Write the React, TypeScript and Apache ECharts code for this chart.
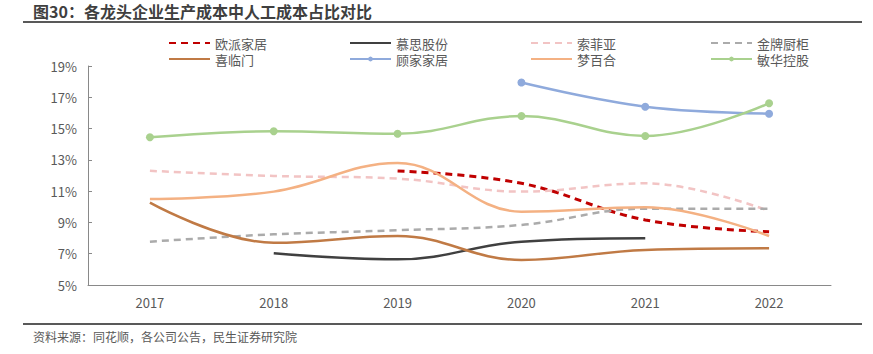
import React, { useEffect, useRef } from "react";
import * as echarts from "echarts";

const years = ["2017", "2018", "2019", "2020", "2021", "2022"];
const oupai = [null, null, 12.29, 11.5, 9.16, 8.41];
const musi = [null, 7.03, 6.64, 7.77, 7.99, null];
const sofia = [12.3, 11.97, 11.8, 10.97, 11.5, 9.73];
const goldenHome = [7.77, 8.24, 8.5, 8.84, 9.88, 9.88];
const xilinmen = [10.26, 7.7, 8.13, 6.6, 7.24, 7.35];
const kuka = [null, null, null, 17.94, 16.4, 15.95];
const mlily = [10.5, 10.97, 12.8, 9.69, 9.97, 8.13];
const manwah = [14.44, 14.83, 14.67, 15.8, 14.53, 16.62];

const FONT = "'Noto Sans CJK SC', 'Noto Sans', sans-serif";

type S = {
  name: string;
  data: (number | null)[];
  color: string;
  dashed?: boolean;
  marker?: boolean;
  width?: number;
};

const seriesDefs: S[] = [
  { name: "欧派家居", data: oupai, color: "#C00000", dashed: true, width: 3 },
  { name: "慕思股份", data: musi, color: "#404040" },
  { name: "索菲亚", data: sofia, color: "#F2C4C4", dashed: true },
  { name: "金牌厨柜", data: goldenHome, color: "#ABABAB", dashed: true },
  { name: "喜临门", data: xilinmen, color: "#C07A45" },
  { name: "顾家家居", data: kuka, color: "#8FAADC", marker: true },
  { name: "梦百合", data: mlily, color: "#F4B183" },
  { name: "敏华控股", data: manwah, color: "#A9D18E", marker: true },
];

const colLeft = [168, 349, 530, 710];
const rowTop = [36, 52];

export default function App() {
  const ref = useRef<HTMLDivElement>(null);
  useEffect(() => {
    document.body.style.margin = "0";
    if (!ref.current) return;
    const chart = echarts.init(ref.current, undefined, { renderer: "svg" });
    const legends = seriesDefs.map((s, i) => ({
      data: [s.marker ? { name: s.name } : { name: s.name, itemStyle: { opacity: 0 } }],
      left: colLeft[i % 4],
      top: rowTop[Math.floor(i / 4)],
      itemWidth: 41,
      itemHeight: 6,
      padding: 0,
      textStyle: { color: "#595959", fontSize: 13, fontFamily: FONT, lineHeight: 14 },
    }));
    chart.setOption({
      animation: false,
      textStyle: { fontFamily: FONT },
      title: {
        text: "图30：各龙头企业生产成本中人工成本占比对比",
        left: 33,
        top: 2,
        padding: 0,
        textStyle: { fontSize: 16, fontWeight: "bold", color: "#3F3F3F", fontFamily: FONT, lineHeight: 17 },
      },
      graphic: [
        { type: "line", shape: { x1: 23, y1: 22, x2: 862, y2: 22 }, style: { stroke: "#595959", lineWidth: 2 } },
        { type: "line", shape: { x1: 23, y1: 324, x2: 862, y2: 324 }, style: { stroke: "#595959", lineWidth: 2 } },
        {
          type: "text",
          left: 33,
          top: 330,
          style: { text: "资料来源：同花顺，各公司公告，民生证券研究院", fontSize: 12, fill: "#595959", fontFamily: FONT },
        },
      ],
      legend: legends,
      grid: { left: 88, right: 42, top: 66, bottom: 69, containLabel: false },
      xAxis: {
        type: "category",
        data: years,
        boundaryGap: true,
        axisLine: { lineStyle: { color: "#898989", width: 1 } },
        axisTick: { inside: true, length: 4, lineStyle: { color: "#898989" } },
        axisLabel: { color: "#595959", fontSize: 13, margin: 11, fontFamily: FONT },
      },
      yAxis: {
        type: "value",
        min: 5,
        max: 19,
        interval: 2,
        splitLine: { show: false },
        axisLine: { show: true, lineStyle: { color: "#898989", width: 1 } },
        axisTick: { show: true, inside: true, length: 4, lineStyle: { color: "#898989" } },
        axisLabel: { color: "#595959", fontSize: 13, margin: 11, formatter: "{value}%", fontFamily: FONT },
      },
      series: seriesDefs.map((s) => ({
        name: s.name,
        type: "line",
        data: s.data,
        smooth: 0.4,
        connectNulls: false,
        symbol: s.marker ? "circle" : "none",
        symbolSize: 8,
        showSymbol: !!s.marker,
        color: s.color,
        itemStyle: { color: s.color },
        lineStyle: {
          color: s.color,
          width: s.width ?? 2.5,
          type: s.dashed ? [7, 5] : "solid",
        },
      })),
    });
    return () => chart.dispose();
  }, []);
  return <div ref={ref} style={{ width: 873, height: 354 }} />;
}
